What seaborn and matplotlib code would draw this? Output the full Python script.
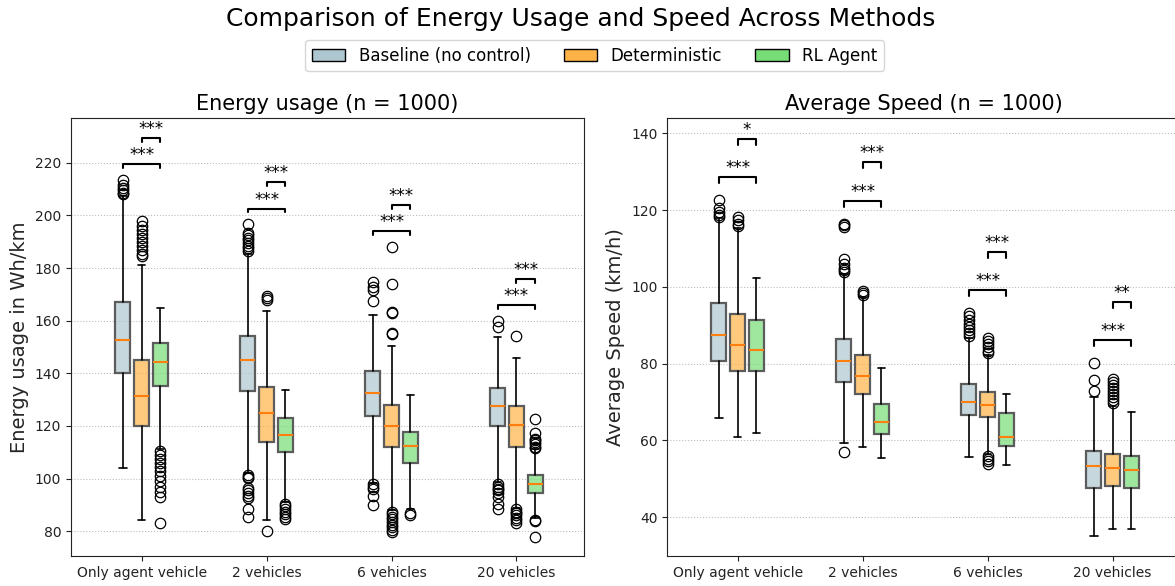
import numpy as np
import matplotlib
matplotlib.use("Agg")
import matplotlib.pyplot as plt
from matplotlib.patches import Patch
from matplotlib.colors import to_rgba
import seaborn as sns

# categories / methods
groups = ["Only agent vehicle", "2 vehicles", "6 vehicles", "20 vehicles"]
methods = ["Baseline (no control)", "Deterministic", "RL Agent"]
colors = ["#AEC6CF", "#FFB347", "#77DD77"]

# box summaries: [whislo, q1, median, q3, whishi]
energy_base = [[104, 140, 152.6, 167, 207.5], [102, 133.2, 145.2, 154.2, 185.5],
               [98.5, 123.8, 132.7, 140.8, 162.2], [98.8, 119.9, 127.6, 134.4, 153.8]]
energy_det = [[84.3, 120, 131.3, 145, 181], [84.3, 113.9, 125.1, 134.8, 163.6],
              [87.9, 111.9, 119.9, 127.9, 150.4], [89, 112.1, 120.4, 127.7, 145.7]]
energy_rl = [[111.2, 135.3, 144.3, 151.6, 165], [91, 110.1, 116.7, 122.9, 133.6],
             [88.5, 105.9, 112.4, 117.7, 131.8], [85, 94.5, 97.8, 101.2, 111.2]]

energy_base_out = [[208, 208.5, 209.5, 210.5, 211.5, 213.5],
                   [186.5, 187.5, 188.5, 189.5, 190.5, 191.5, 192.5, 193.2, 196.6,
                    101.3, 100.8, 100.2, 96.5, 95.5, 94.5, 93.5, 92.5, 88.5, 85.4],
                   [167.4, 171.6, 172.9, 174.8, 98, 97, 96, 93.5, 89.8],
                   [157.6, 159.9, 98, 97, 96.2, 95.5, 94.5, 93, 90.5, 88.4]]
energy_det_out = [[184.5, 185.5, 187, 188.5, 190, 191.5, 193, 194.5, 196, 198],
                  [167.8, 168.5, 169.5, 80],
                  [154.9, 155.2, 163.1, 163.4, 174.1, 188, 87.5, 86.5, 85.5, 84.5,
                   83.5, 82.5, 81.5, 80.5, 79.8],
                  [154.2, 88.5, 87.5, 86.8, 86, 85.2, 84.3, 83]]
energy_rl_out = [[110.5, 109, 107.5, 106, 104.5, 103, 101, 99, 97, 95, 93, 83.2],
                 [90.5, 89.5, 88.5, 87.5, 86.5, 85.5, 84.5],
                 [86.8, 86.2],
                 [111.5, 112.2, 113, 113.8, 114.5, 115.2, 117.5, 122.5, 84.4, 83.8, 77.8]]

speed_base = [[65.8, 80.8, 87.4, 95.7, 118], [59.4, 75.1, 80.8, 86.4, 103.3],
              [55.6, 66.5, 70.0, 74.6, 86.7], [35.0, 47.7, 53.2, 57.2, 71.4]]
speed_det = [[60.9, 78.0, 84.8, 93.0, 115.3], [58.2, 72.2, 76.9, 82.2, 97.3],
             [56.4, 66.0, 69.3, 72.5, 82.2], [37.0, 48.2, 52.9, 56.5, 68.9]]
speed_rl = [[61.9, 78.0, 83.5, 91.3, 102.3], [55.4, 61.7, 64.9, 69.5, 78.8],
            [53.6, 58.6, 61.0, 67.2, 72.1], [37.0, 47.5, 52.3, 55.8, 67.5]]

speed_base_out = [[118.3, 118.8, 119.5, 120.5, 122.5],
                  [103.8, 104.3, 105, 106, 107.3, 115.6, 116, 116.4, 57.1],
                  [87.2, 88, 88.8, 89.6, 90.4, 91.3, 92.3, 93.1],
                  [72.9, 75.7, 80.1]]
speed_det_out = [[115.8, 116.5, 117.5, 118.3],
                 [97.8, 98.3, 98.8],
                 [82.7, 83.4, 84.2, 85.0, 85.8, 86.6, 56.0, 55.2, 54.5, 53.8],
                 [69.8, 70.5, 71.3, 72.1, 72.9, 73.7, 74.5, 75.3, 76.1]]
speed_rl_out = [[], [], [], []]

# significance labels: (baseline vs RL, deterministic vs RL)
energy_sig = [("***", "***"), ("***", "***"), ("***", "***"), ("***", "***")]
speed_sig = [("***", "*"), ("***", "***"), ("***", "***"), ("***", "**")]

sns.set_style("ticks")
plt.rcParams['font.family'] = ['DejaVu Sans']
plt.rcParams['axes.edgecolor'] = '#222222'
plt.rcParams['text.color'] = 'black'
plt.rcParams['xtick.color'] = '#222222'
plt.rcParams['ytick.color'] = '#222222'


def make_stats(summary, outliers):
    lo, q1, med, q3, hi = summary
    return dict(whislo=lo, q1=q1, med=med, q3=q3, whishi=hi, fliers=outliers)


def draw_panel(ax, summaries, outliers, sig, title, ylabel, ylim):
    offsets = [-0.15, 0.0, 0.15]
    for m in range(3):
        stats = [make_stats(summaries[m][g], outliers[m][g]) for g in range(len(groups))]
        pos = np.arange(len(groups)) + offsets[m]
        bp = ax.bxp(stats, positions=pos, widths=0.12, patch_artist=True,
                    showfliers=True, manage_ticks=False,
                    boxprops=dict(linewidth=1.6),
                    medianprops=dict(color='#ff7f0e', linewidth=1.5),
                    whiskerprops=dict(color='black', linewidth=1.2),
                    capprops=dict(color='black', linewidth=1.2),
                    flierprops=dict(marker='o', markerfacecolor='none',
                                    markeredgecolor='black', markersize=7.5,
                                    markeredgewidth=0.9))
        for box in bp['boxes']:
            box.set_facecolor(to_rgba(colors[m], 0.7))
            box.set_edgecolor('#5c5c5c')

    # significance brackets
    h = 1.5
    for g in range(len(groups)):
        vals = []
        for m in range(3):
            vals += list(summaries[m][g]) + list(outliers[m][g])
        y1 = max(vals) + 6
        y2 = y1 + 10
        for (xa, xb, y, lab) in [(g - 0.15, g + 0.15, y1, sig[g][0]),
                                 (g, g + 0.15, y2, sig[g][1])]:
            ax.plot([xa, xa, xb, xb], [y - h, y, y, y - h], color='black', lw=1.5)
            ax.text((xa + xb) / 2, y, lab, ha='center', va='bottom', fontsize=12)

    ax.set_xticks(np.arange(len(groups)))
    ax.set_xticklabels(groups, fontsize=10)
    ax.tick_params(axis='y', labelsize=10)
    ax.set_xlim(-0.565, 3.54)
    ax.set_ylim(*ylim)
    ax.set_title(title, fontsize=15)
    ax.set_ylabel(ylabel, fontsize=14)
    ax.yaxis.grid(True, linestyle=':', color='#bdbdbd', linewidth=0.8)
    ax.set_axisbelow(True)


fig = plt.figure(figsize=(11.75, 5.86), dpi=100)
ax1 = fig.add_axes([0.0604, 0.0507, 0.4366, 0.748])
ax2 = fig.add_axes([0.5677, 0.0507, 0.4366, 0.748])

draw_panel(ax1, [energy_base, energy_det, energy_rl],
           [energy_base_out, energy_det_out, energy_rl_out], energy_sig,
           "Energy usage (n = 1000)", "Energy usage in Wh/km", (70.5, 237))
draw_panel(ax2, [speed_base, speed_det, speed_rl],
           [speed_base_out, speed_det_out, speed_rl_out], speed_sig,
           "Average Speed (n = 1000)", "Average Speed (km/h)", (29.8, 144))

fig.text(0.494, 0.968, "Comparison of Energy Usage and Speed Across Methods",
         ha='center', va='center', fontsize=18)
handles = [Patch(facecolor=c, edgecolor='black', label=lab) for c, lab in zip(colors, methods)]
fig.legend(handles=handles, loc='upper center', bbox_to_anchor=(0.506, 0.946),
           ncol=3, fontsize=12, frameon=True)

fig.savefig("out.png", dpi=100)
